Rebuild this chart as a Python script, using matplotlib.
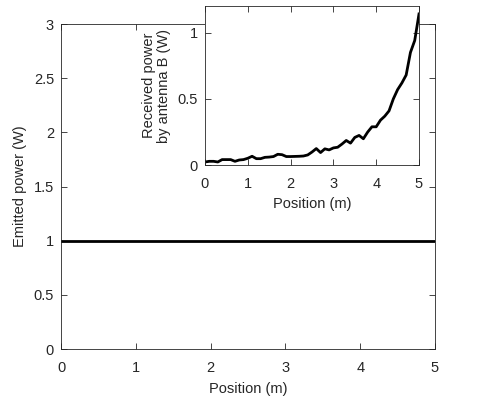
import matplotlib
matplotlib.use("Agg")
import matplotlib.pyplot as plt
import numpy as np

plt.rcParams['font.family'] = ['Liberation Sans', 'DejaVu Sans']
plt.rcParams['font.size'] = 10.5

# Main chart data
main_x = [0, 5]
main_y = [1, 1]
main_xticks = [0, 1, 2, 3, 4, 5]
main_yticks = [0, 0.5, 1, 1.5, 2, 2.5, 3]
main_yticklabels = ["0", "0.5", "1", "1.5", "2", "2.5", "3"]

# Inset data
inset_x = [0.0, 0.1, 0.2, 0.3, 0.4, 0.5, 0.6, 0.7, 0.8, 0.9,
           1.0, 1.1, 1.2, 1.3, 1.4, 1.5, 1.6, 1.7, 1.8, 1.9,
           2.0, 2.1, 2.2, 2.3, 2.4, 2.5, 2.6, 2.7, 2.8, 2.9,
           3.0, 3.1, 3.2, 3.3, 3.4, 3.5, 3.6, 3.7, 3.8, 3.9,
           4.0, 4.1, 4.2, 4.3, 4.4, 4.5, 4.6, 4.7, 4.8, 4.9, 5.0]
inset_y = [0.025, 0.03, 0.03, 0.025, 0.043, 0.043, 0.043, 0.03, 0.04, 0.043,
           0.053, 0.068, 0.05, 0.05, 0.06, 0.062, 0.066, 0.083, 0.08, 0.066,
           0.066, 0.067, 0.068, 0.07, 0.078, 0.10, 0.126, 0.096, 0.124, 0.116,
           0.131, 0.136, 0.16, 0.187, 0.167, 0.21, 0.225, 0.20, 0.25, 0.29,
           0.29, 0.34, 0.37, 0.41, 0.50, 0.57, 0.62, 0.68, 0.85, 0.94, 1.14]
inset_xticks = [0, 1, 2, 3, 4, 5]
inset_yticks = [0, 0.5, 1]
inset_yticklabels = ["0", "0.5", "1"]

fig = plt.figure(figsize=(4.82, 3.99), dpi=100)
tc = '#262626'

def style(ax):
    ax.tick_params(direction='in', top=True, right=True, length=4, width=0.6,
                   colors=tc, labelcolor=tc)
    ax.tick_params(axis='x', pad=8.5)
    ax.tick_params(axis='y', pad=5)
    for s in ax.spines.values():
        s.set_linewidth(0.6)
        s.set_color(tc)

ax = fig.add_axes([0.1266, 0.1253, 0.9025 - 0.1266, 0.9398 - 0.1253])
ax.plot(main_x, main_y, color='black', lw=2)
ax.set_xlim(0, 5)
ax.set_ylim(0, 3)
ax.set_xticks(main_xticks)
ax.set_yticks(main_yticks)
ax.set_yticklabels(main_yticklabels)
ax.set_xlabel("Position (m)", color=tc, labelpad=5.5)
ax.set_ylabel("Emitted power (W)", color=tc, labelpad=5)
style(ax)

ins = fig.add_axes([0.4253, 0.5857, 0.8693 - 0.4253, 0.985 - 0.5857])
ins.set_facecolor('white')
ins.plot(inset_x, inset_y, color='black', lw=2)
ins.set_xlim(0, 5)
ins.set_ylim(0, 1.2)
ins.set_xticks(inset_xticks)
ins.set_yticks(inset_yticks)
ins.set_yticklabels(inset_yticklabels)
ins.set_xlabel("Position (m)", color=tc, labelpad=4)
ins.set_ylabel("Received power\nby antenna B (W)", color=tc, labelpad=5, linespacing=1.1)
style(ins)

fig.savefig("out.png", dpi=100)
